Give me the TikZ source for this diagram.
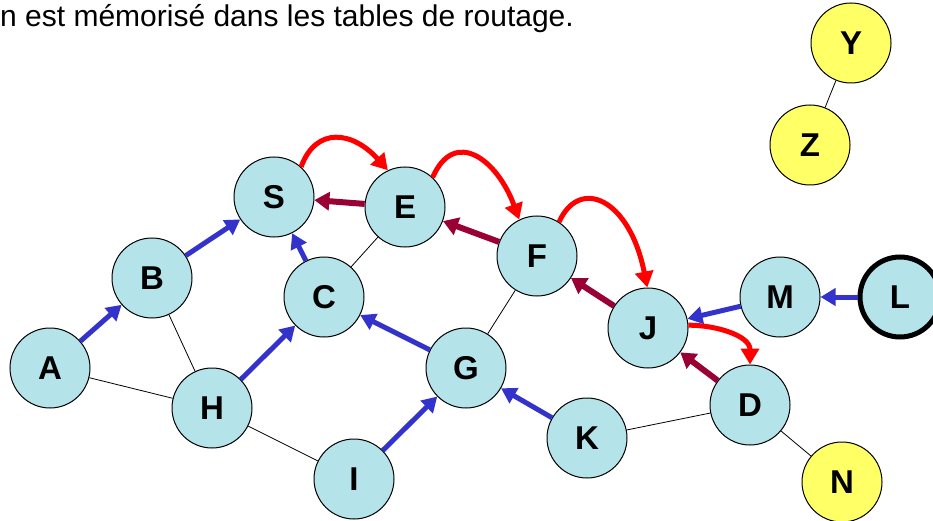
\documentclass[tikz,border=0pt]{standalone}
\usepackage{fontspec}
\setmainfont{Liberation Sans}
\usetikzlibrary{arrows.meta}

\definecolor{drop}{RGB}{180,227,233}
\definecolor{sun}{RGB}{255,255,102}
\definecolor{fwd}{RGB}{51,51,204}
\definecolor{back}{RGB}{153,0,51}

\begin{document}
\begin{tikzpicture}[x=1pt,y=1pt,
  router/.style={circle,draw=black,line width=1pt,fill=drop,minimum size=80pt,
    inner sep=0pt,font=\fontsize{33}{33}\selectfont\bfseries},
  outside/.style={router,fill=sun},
  link/.style={black,line width=0.8pt},
  route/.style={fwd,line width=5pt,-{Triangle[length=15pt,width=17pt]}},
  reply/.style={back,line width=6pt,-{Triangle[length=15pt,width=18pt]}},
  probe/.style={red,line width=5pt,-{Triangle[length=16pt,width=18pt]}}]
\useasboundingbox (0,0) rectangle (933,520);

% caption line
\node[anchor=base west,inner sep=0pt,font=\fontsize{30}{30}\selectfont] (note) at (0,493)
  {n est mémorisé dans les tables de routage.};

% routers
\node[router] (S) at (274,323) {S};
\node[router] (E) at (405,313) {E};
\node[router] (F) at (537,264) {F};
\node[router] (J) at (648,192) {J};
\node[router] (M) at (780,223) {M};
\node[router,line width=5pt] (L) at (900,223) {L};
\node[router] (D) at (750,115) {D};
\node[router] (A) at (50,152) {A};
\node[router] (B) at (152,242) {B};
\node[router] (H) at (212,112) {H};
\node[router] (C) at (324,223) {C};
\node[router] (G) at (466,152) {G};
\node[router] (I) at (354,41) {I};
\node[router] (K) at (587,82) {K};
\node[outside] (N) at (842,38) {N};
\node[outside] (Y) at (851,477) {Y};
\node[outside] (Z) at (810,375) {Z};

% plain links
\draw[link] (A) -- (H);
\draw[link] (B) -- (H);
\draw[link] (H) -- (I);
\draw[link] (C) -- (E);
\draw[link] (F) -- (G);
\draw[link] (K) -- (D);
\draw[link] (D) -- (N);
\draw[link] (Y) -- (Z);

% route towards S
\draw[route] (A) -- (B);
\draw[route] (B) -- (S);
\draw[route] (C) -- (S);
\draw[route] (H) -- (C);
\draw[route] (G) -- (C);
\draw[route] (I) -- (G);
\draw[route] (K) -- (G);
\draw[route] (M) -- (J);
\draw[route] (L) -- (M);

% answer path
\draw[reply] (E) -- (S);
\draw[reply] (F) -- (E);
\draw[reply] (J) -- (F);
\draw[reply] (D) -- (J);

% request path
\draw[probe] (S.48) .. controls +(15,41) and +(-35,39) .. (E.115);
\draw[probe] (E.47) .. controls +(22,50) and +(-22,60) .. (F.116);
\draw[probe] (F.57) .. controls +(20,45) and +(-18,90) .. (J.91);
\draw[probe] (J.4) to[out=0,in=90] (D.90);
\end{tikzpicture}
\end{document}
